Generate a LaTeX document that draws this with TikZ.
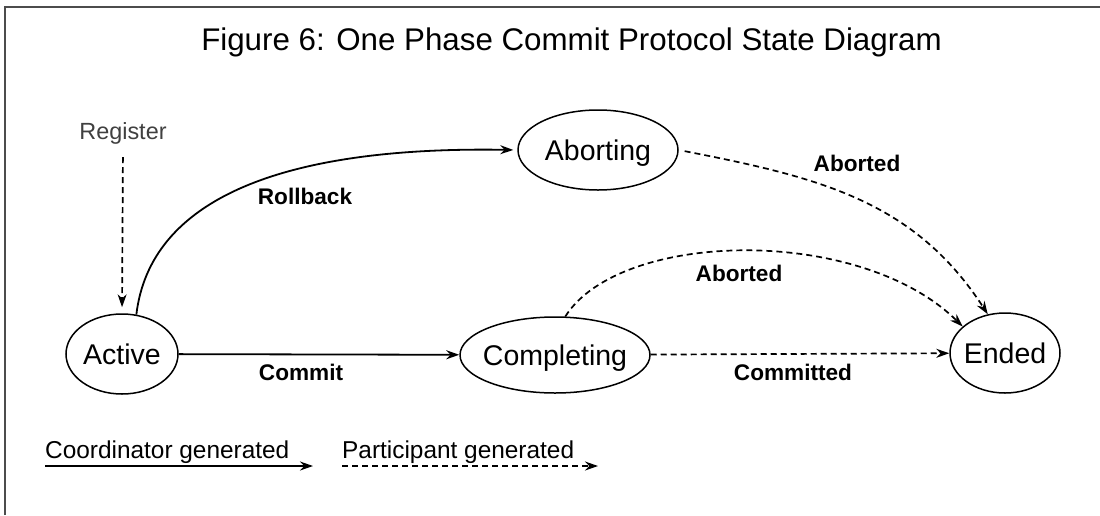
\documentclass[tikz,border=0pt]{standalone}
\usepackage{fontspec}
\setmainfont{Liberation Sans}
\usetikzlibrary{shapes.geometric,arrows.meta}

\begin{document}
\begin{tikzpicture}[x=1pt,y=-1pt,
  state/.style={draw, ellipse, line width=1.5pt, inner sep=0pt,
    text height=24pt, text depth=3.6pt,
    font=\fontsize{28.5}{30}\selectfont},
  lbl/.style={inner sep=0pt, font=\bfseries\fontsize{22.6}{24}\selectfont},
  legendtext/.style={inner sep=0pt, anchor=base west, font=\fontsize{24.4}{26}\selectfont},
  coordarrow/.style={line width=1.8pt, -{Stealth[length=13pt,width=9pt]}},
  partarrow/.style={line width=1.7pt, dash pattern=on 6pt off 4pt,
    -{Stealth[length=13pt,width=9pt]}},
]
\useasboundingbox (0,0) rectangle (1100,515);

% frame
\draw[line width=2pt, black!70] (5,515) -- (5,7) -- (1100,7);

% title
\node[inner sep=0pt, anchor=base, font=\fontsize{31.3}{33}\selectfont] (title)
  at (571.5,50) {Figure 6: One Phase Commit Protocol State Diagram};

% states
\node[state, minimum width=112pt, minimum height=80pt] (act) at (122,354) {\makebox[0pt]{Active}};
\node[state, minimum width=160pt, minimum height=80pt] (abt) at (598,150) {\makebox[0pt]{Aborting}};
\node[state, minimum width=190pt, minimum height=76pt] (cmp) at (555,355) {\makebox[0pt]{Completing}};
\node[state, minimum width=110pt, minimum height=80pt] (end) at (1005,353) {\makebox[0pt]{Ended}};

% registration
\node[inner sep=0pt, text height=17pt, text depth=5pt, text=black!75,
  font=\fontsize{23.4}{25}\selectfont] (reg) at (123,133) {Register};
\draw[partarrow, shorten <=13pt, shorten >=6pt] (reg.south) -- (act.north);

% coordinator transitions
\draw[coordarrow, shorten >=4pt] (act.70) .. controls (150,200) and (280,146) .. (abt.west);
\draw[coordarrow] (act) -- (cmp);

% participant transitions
\draw[partarrow, shorten <=6pt] (abt.east) .. controls (817,177) and (914,200) .. (end.114);
\draw[partarrow] (cmp.75) .. controls (620,230) and (860,225) .. (end.148);
\draw[partarrow] (cmp) -- (end);

% transition labels
\node[lbl] (lrollback) at (305,196) {Rollback};
\node[lbl] (lcommit) at (301,372) {Commit};
\node[lbl] (labort1) at (857,163) {Aborted};
\node[lbl] (labort2) at (739,273) {Aborted};
\node[lbl] (lcommitted) at (793,372) {Committed};

% legend
\coordinate (k1a) at (45,466);
\coordinate (k1b) at (313,466);
\coordinate (k2a) at (342,466);
\coordinate (k2b) at (598,466);
\node[legendtext] (kcoord) at (45,458) {Coordinator generated};
\node[legendtext] (kpart) at (342,458) {Participant generated};
\draw[coordarrow] (k1a) -- (k1b);
\draw[partarrow] (k2a) -- (k2b);
\end{tikzpicture}
\end{document}
